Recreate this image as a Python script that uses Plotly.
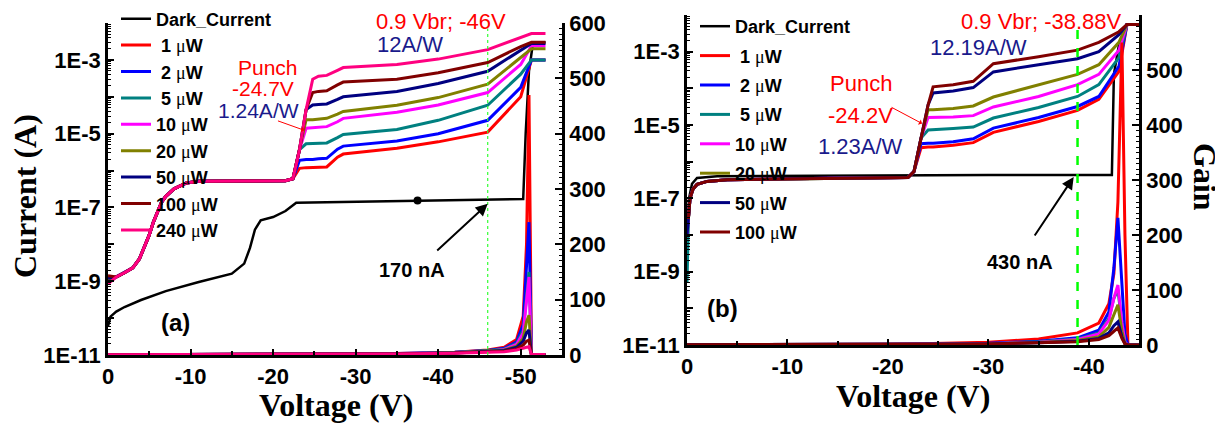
import numpy as np
import plotly.graph_objects as go

# page body has an 8px margin: design in screenshot pixels, convert to figure fractions
OFF = 8
W, H = 1215, 420

def fx(px):
    return (px - OFF) / W

def fy(py):
    return 1 - (py - OFF) / H

MU = "<span style='font-family:Liberation Serif;font-weight:normal'>μ</span>"
NB = "\u00a0"

colors_photo = ["#FF0000", "#0000FF", "#008080", "#FF00FF", "#808000", "#000080", "#800000", "#FF0080"]
names_a = [NB + "1 " + MU + "W", NB + "2 " + MU + "W", NB + "5 " + MU + "W", "10 " + MU + "W",
           "20 " + MU + "W", "50 " + MU + "W", "100 " + MU + "W", "240 " + MU + "W"]
names_b = names_a[:7]

# ---------------- Panel (a) data ----------------
dark_a_V = [0, -0.3, -1, -2, -4, -7, -11, -15, -16.5, -17.2, -17.8, -18.5, -20, -21.5, -22.8,
            -30, -37.5, -45, -50.3, -50.6, -51, -51.5, -53]
dark_a_I = [6e-11, 1.1e-10, 1.5e-10, 2e-10, 3.1e-10, 5.4e-10, 9.5e-10, 1.6e-9, 3e-9, 8e-9, 2.5e-8,
            4.5e-8, 5.5e-8, 8e-8, 1.35e-7, 1.45e-7, 1.55e-7, 1.65e-7, 1.7e-7, 1e-5, 5e-4, 3.0e-3, 3.0e-3]
dark_dot_a_V = [-37.5]
dark_dot_a_I = [1.55e-7]

start_a_I = [1.0e-9, 1.0e-9, 1.05e-9, 9e-10, 1.1e-9, 1.2e-9, 1.4e-9, 8.5e-10]   # at 0 V
pre_a_V = [-1, -2, -3, -3.8, -4.5, -5, -5.5, -6, -6.5, -7, -8, -9.5, -11, -16, -21.5, -22.4]
pre_a_I = [1.3e-9, 1.7e-9, 2.3e-9, 4e-9, 9e-9, 1.8e-8, 4e-8, 8e-8, 1.4e-7, 2e-7, 3.2e-7, 4.6e-7,
           5.1e-7, 5.2e-7, 5.3e-7, 6e-7]
post_a_V = [-23.2, -24.0, -24.8, -25.5, -26.5, -27.8, -28.5, -35, -40, -46, -50, -51.3, -53]
red_a = [1.15e-6, 1.2e-6, 1.2e-6, 1.25e-6, 1.25e-6, 2.3e-6, 2.8e-6, 4.0e-6, 6.0e-6, 1.1e-5, 1.0e-4, 1.0e-3, 1.0e-3]
blue_a = [1.9e-6, 2.0e-6, 2.0e-6, 2.1e-6, 2.15e-6, 3.8e-6, 4.6e-6, 6.3e-6, 1.0e-5, 2.3e-5, 1.8e-4, 1.0e-3, 1.0e-3]
teal_a = [3.7e-6, 5.3e-6, 5.4e-6, 5.5e-6, 5.6e-6, 7.8e-6, 9.5e-6, 1.3e-5, 2.3e-5, 5.9e-5, 4.1e-4, 1.0e-3, 1.0e-3]
magenta_a = [3.7e-6, 1.4e-5, 1.45e-5, 1.5e-5, 1.55e-5, 2.1e-5, 2.6e-5, 3.8e-5, 6.0e-5, 1.3e-4, 7.5e-4, 2.4e-3, 2.4e-3]
olive_a = [3.7e-6, 2.4e-5, 2.4e-5, 2.5e-5, 2.6e-5, 3.4e-5, 4.0e-5, 5.9e-5, 9.5e-5, 2.2e-4, 1.2e-3, 2.0e-3, 2.0e-3]
navy_a = [3.7e-6, 4.5e-5, 6.0e-5, 6.2e-5, 6.4e-5, 8.5e-5, 1.0e-4, 1.4e-4, 2.3e-4, 4.9e-4, 1.9e-3, 2.8e-3, 2.8e-3]
brown_a = [3.7e-6, 4.5e-5, 1.3e-4, 1.4e-4, 1.45e-4, 2.1e-4, 2.5e-4, 3.0e-4, 4.5e-4, 8.5e-4, 2.3e-3, 3.0e-3, 3.0e-3]
pink_a = [3.7e-6, 4.5e-5, 3.0e-4, 3.6e-4, 3.8e-4, 5.2e-4, 6.2e-4, 7.5e-4, 1.05e-3, 1.9e-3, 4.1e-3, 5.2e-3, 5.2e-3]
post_a = [red_a, blue_a, teal_a, magenta_a, olive_a, navy_a, brown_a, pink_a]

gain_a_V = [0, -25, -35, -42, -46, -48, -49.5, -50.3, -50.7, -51.0, -51.3, -53]
gain_red_a = [0.5, 1, 2.5, 5, 9, 14, 28, 70, 200, 470, 0, 0]
gain_blue_a = [0.5, 1, 2.5, 5, 8, 12, 24, 55, 150, 240, 0, 0]
gain_teal_a = [0.5, 1, 2, 4.5, 7.5, 11, 21, 45, 110, 150, 0, 0]
gain_magenta_a = [0.5, 1, 2, 4, 7, 10, 19, 40, 100, 141, 0, 0]
gain_olive_a = [0.5, 1, 2, 4, 6.5, 9, 16, 30, 60, 72, 0, 0]
gain_navy_a = [0.5, 1, 2, 3.5, 6, 8, 14, 25, 40, 45, 0, 0]
gain_brown_a = [0.5, 1, 2, 3.5, 5.5, 7, 11, 18, 25, 27, 0, 0]
gain_pink_a = [0.5, 1, 2, 3, 5, 6, 9, 13, 14, 15, 1, 1]
gain_a = [gain_red_a, gain_blue_a, gain_teal_a, gain_magenta_a, gain_olive_a, gain_navy_a,
          gain_brown_a, gain_pink_a]

# ---------------- Panel (b) data ----------------
dark_b_V = [0, -0.2, -0.5, -1, -3, -10, -22, -30, -42.3, -42.5, -43.0, -43.8, -45]
dark_b_I = [1e-8, 1e-7, 2.5e-7, 3.6e-7, 4.0e-7, 4.1e-7, 4.2e-7, 4.3e-7, 4.3e-7, 2.4e-4, 1.5e-3, 5.5e-3, 5.5e-3]

start_b_I = [1e-8, 1e-8, 5e-10, 1e-8, 2e-8, 1e-8, 3e-8]   # at 0 V
pre_b_V = [-0.15, -0.3, -0.6, -1, -2, -4, -10, -18, -22]
pre_b_I = [3e-8, 1e-7, 1.8e-7, 2.4e-7, 2.9e-7, 3.2e-7, 3.4e-7, 3.6e-7, 3.7e-7]
post_b_V = [-22.6, -23.3, -24.0, -24.5, -26.5, -28.5, -30.5, -35, -38.88, -41, -43, -43.8, -45]
red_b = [5.4e-7, 2.4e-6, 2.5e-6, 2.5e-6, 2.8e-6, 3.3e-6, 6.3e-6, 1.25e-5, 2.5e-5, 5.0e-5, 2.9e-4, 5.5e-3, 5.5e-3]
blue_b = [5.4e-7, 3.1e-6, 3.2e-6, 3.2e-6, 3.5e-6, 4.2e-6, 8.2e-6, 1.6e-5, 3.2e-5, 6.0e-5, 4.0e-4, 5.5e-3, 5.5e-3]
teal_b = [5.4e-7, 4.4e-6, 7.3e-6, 7.4e-6, 8.0e-6, 8.8e-6, 1.55e-5, 3.0e-5, 6.0e-5, 1.26e-4, 6.9e-4, 5.5e-3, 5.5e-3]
magenta_b = [5.4e-7, 4.4e-6, 1.6e-5, 1.6e-5, 1.65e-5, 1.8e-5, 3.1e-5, 6.0e-5, 1.26e-4, 2.4e-4, 1.1e-3, 5.5e-3, 5.5e-3]
olive_b = [5.4e-7, 4.4e-6, 2.6e-5, 2.6e-5, 2.8e-5, 3.3e-5, 5.8e-5, 1.26e-4, 2.4e-4, 4.4e-4, 1.8e-3, 5.5e-3, 5.5e-3]
navy_b = [5.4e-7, 4.4e-6, 3.5e-5, 7.5e-5, 8.5e-5, 1.05e-4, 2.8e-4, 4.4e-4, 6.4e-4, 1.0e-3, 2.9e-3, 5.5e-3, 5.5e-3]
brown_b = [5.4e-7, 4.4e-6, 3.5e-5, 1.1e-4, 1.25e-4, 1.55e-4, 4.7e-4, 7.3e-4, 1.1e-3, 1.8e-3, 3.5e-3, 5.5e-3, 5.5e-3]
post_b = [red_b, blue_b, teal_b, magenta_b, olive_b, navy_b, brown_b]

gain_b_V = [0, -20, -30, -35, -38.88, -41, -42, -42.5, -42.9, -43.3, -43.6, -43.9, -45]
gain_red_b = [0.5, 1, 5, 11, 22, 40, 75, 130, 260, 550, 200, 0, 0]
gain_blue_b = [0.5, 1, 3, 7, 13, 27, 60, 140, 231, 100, 20, 0, 0]
gain_teal_b = [0.5, 1, 2.5, 6, 11, 22, 48, 85, 100, 40, 5, 0, 0]
gain_magenta_b = [0.5, 1, 2.5, 5, 10, 20, 45, 85, 109, 40, 5, 0, 0]
gain_olive_b = [0.5, 1, 2, 4.5, 8, 15, 32, 55, 73, 25, 3, 0, 0]
gain_navy_b = [0.5, 1, 2, 4, 7, 12, 22, 35, 42, 15, 2, 0, 0]
gain_brown_b = [0.5, 1, 2, 4, 6, 10, 17, 25, 31, 12, 2, 0, 0]
gain_b = [gain_red_b, gain_blue_b, gain_teal_b, gain_magenta_b, gain_olive_b, gain_navy_b, gain_brown_b]

# tick labels
x_tick_a = [0, -10, -20, -30, -40, -50]
x_tick_b = [0, -10, -20, -30, -40]
log_tickvals = [1e-11, 1e-10, 1e-9, 1e-8, 1e-7, 1e-6, 1e-5, 1e-4, 1e-3, 1e-2]
log_ticktext = ["1E-11", "", "1E-9", "", "1E-7", "", "1E-5", "", "1E-3", ""]
gain_ticks = [0, 100, 200, 300, 400, 500, 600]

fig = go.Figure()

LW = 3
fig.add_trace(go.Scatter(x=dark_a_V, y=dark_a_I, mode="lines", name="Dark_Current",
                         line=dict(color="black", width=2.5), xaxis="x", yaxis="y",
                         legend="legend", legendgroup="a0"))
fig.add_trace(go.Scatter(x=dark_dot_a_V, y=dark_dot_a_I, mode="markers", showlegend=False,
                         marker=dict(color="black", size=8), xaxis="x", yaxis="y"))
for i in range(8):
    V = [0] + pre_a_V + post_a_V
    I = [start_a_I[i]] + pre_a_I + post_a[i]
    fig.add_trace(go.Scatter(x=V, y=I, mode="lines", name=names_a[i],
                             line=dict(color=colors_photo[i], width=LW), xaxis="x", yaxis="y",
                             legend="legend", legendgroup="a%d" % (i + 1)))
for i in range(8):
    fig.add_trace(go.Scatter(x=gain_a_V, y=gain_a[i], mode="lines", showlegend=False,
                             line=dict(color=colors_photo[i], width=LW), xaxis="x", yaxis="y2"))

fig.add_trace(go.Scatter(x=dark_b_V, y=dark_b_I, mode="lines", name="Dark_Current",
                         line=dict(color="black", width=2.5), xaxis="x2", yaxis="y3",
                         legend="legend2", legendgroup="b0"))
for i in range(7):
    V = [0] + pre_b_V + post_b_V
    I = [start_b_I[i]] + pre_b_I + post_b[i]
    fig.add_trace(go.Scatter(x=V, y=I, mode="lines", name=names_b[i],
                             line=dict(color=colors_photo[i], width=LW), xaxis="x2", yaxis="y3",
                             legend="legend2", legendgroup="b%d" % (i + 1)))
for i in range(7):
    fig.add_trace(go.Scatter(x=gain_b_V, y=gain_b[i], mode="lines", showlegend=False,
                             line=dict(color=colors_photo[i], width=LW), xaxis="x2", yaxis="y4"))

tickfont = dict(family="Liberation Sans", size=22, color="black", weight="bold")
axis_common = dict(showline=True, linewidth=2.5, linecolor="black", showgrid=False, zeroline=False,
                   ticks="inside", tickwidth=2, tickcolor="black", tickfont=tickfont, automargin=False)

leg_font = dict(family="Liberation Sans", size=18, color="black", weight="bold")

fig.update_layout(
    width=W, height=H, margin=dict(l=0, r=0, t=0, b=0, pad=0, autoexpand=False),
    paper_bgcolor="white", plot_bgcolor="white",
    xaxis=dict(domain=[fx(108), fx(562)], range=[0, -55], anchor="y",
               tickmode="array", tickvals=x_tick_a, ticktext=[str(v) for v in x_tick_a], ticklen=6,
               minor=dict(tick0=0, dtick=5, ticks="inside", ticklen=4, tickwidth=2, tickcolor="black"),
               **axis_common),
    yaxis=dict(domain=[fy(355), fy(23)], type="log", range=[-11, -2], anchor="x",
               tickmode="array", tickvals=log_tickvals, ticktext=log_ticktext, ticklen=6,
               minor=dict(dtick="D1", ticks="inside", ticklen=3, tickwidth=1.2, tickcolor="black"),
               **axis_common),
    yaxis2=dict(overlaying="y", side="right", anchor="x", range=[0, 600],
                tickmode="array", tickvals=gain_ticks, ticklen=7,
                minor=dict(tick0=0, dtick=10, ticks="inside", ticklen=3, tickwidth=1.2, tickcolor="black"),
                **axis_common),
    xaxis2=dict(domain=[fx(687), fx(1139)], range=[0, -45], anchor="y3",
                tickmode="array", tickvals=x_tick_b, ticktext=[str(v) for v in x_tick_b], ticklen=6,
                minor=dict(tick0=0, dtick=5, ticks="inside", ticklen=4, tickwidth=2, tickcolor="black"),
                **axis_common),
    yaxis3=dict(domain=[fy(345), fy(15)], type="log", range=[-11, -2], anchor="x2",
                tickmode="array", tickvals=log_tickvals, ticktext=log_ticktext, ticklen=6,
                minor=dict(dtick="D1", ticks="inside", ticklen=3, tickwidth=1.2, tickcolor="black"),
                **axis_common),
    yaxis4=dict(overlaying="y3", side="right", anchor="x2", range=[0, 600],
                tickmode="array", tickvals=gain_ticks, ticklen=7,
                minor=dict(tick0=0, dtick=10, ticks="inside", ticklen=3, tickwidth=1.2, tickcolor="black"),
                **axis_common),
    legend=dict(xref="paper", yref="paper", x=fx(116), xanchor="left", y=fy(0.5), yanchor="top",
                bgcolor="rgba(0,0,0,0)", font=leg_font, tracegroupgap=0, itemwidth=30, maxheight=420),
    legend2=dict(xref="container", yref="container", x=fx(695), xanchor="left", y=fy(5), yanchor="top",
                 bgcolor="rgba(0,0,0,0)", font=leg_font, tracegroupgap=3, itemwidth=30, maxheight=420),
)

# green reference lines
fig.add_shape(type="line", xref="x", yref="y2", x0=-46, x1=-46, y0=0, y1=590,
              line=dict(color="#33FF33", width=1.2, dash="dot"))
fig.add_shape(type="line", xref="x2", yref="y4", x0=-38.88, x1=-38.88, y0=0, y1=573,
              line=dict(color="#00FF00", width=2.5, dash="dash"))

ann = []
def txt(x, y, s, color="black", size=22, bold=False, family="Liberation Sans", angle=0):
    ann.append(dict(x=fx(x), y=fy(y), xref="paper", yref="paper", text=s, showarrow=False,
                    xanchor="center", yanchor="middle", textangle=angle,
                    font=dict(family=family, size=size, color=color,
                              weight="bold" if bold else "normal")))

RED = "#FF0000"
NAVY = "#1A1A8C"
txt(441, 21, "0.9 Vbr; -46V", RED)
txt(410, 44, "12A/W", NAVY)
txt(268, 68, "Punch", RED, size=21)
txt(263, 88, "-24.7V", RED, size=21)
txt(258, 110, "1.24A/W", NAVY, size=21)
txt(412, 270, "170 nA", size=20, bold=True)
txt(175, 322, "(a)", size=24, bold=True)
txt(1041, 21, "0.9 Vbr; -38.88V", RED)
txt(978, 47, "12.19A/W", NAVY)
txt(861, 83, "Punch", RED)
txt(860, 115, "-24.2V", RED)
txt(860, 147, "1.23A/W", NAVY)
txt(1020, 262, "430 nA", size=20, bold=True)
txt(722, 308, "(b)", size=24, bold=True)
serif = "Liberation Serif"
txt(25, 196, "Current (A)", size=32, bold=True, family=serif, angle=-90)
txt(336, 405, "Voltage (V)", size=32, bold=True, family=serif)
txt(913, 396, "Voltage (V)", size=32, bold=True, family=serif)
txt(1205, 177, "Gain", size=32, bold=True, family=serif, angle=90)

ann.append(dict(x=-23.8, y=-4.91, xref="x", yref="y", ax=-28, ay=-10, text="", showarrow=True,
                arrowhead=1, arrowsize=1, arrowwidth=1, arrowcolor=RED))
ann.append(dict(x=-23.4, y=-4.96, xref="x2", yref="y3", ax=-32, ay=-17, text="", showarrow=True,
                arrowhead=1, arrowsize=1, arrowwidth=1, arrowcolor=RED))
ann.append(dict(x=-46, y=float(np.log10(1.25e-7)), xref="x", yref="y", ax=-52, ay=48, text="",
                showarrow=True, arrowhead=2, arrowsize=1.2, arrowwidth=2, arrowcolor="black"))
ann.append(dict(x=-38.5, y=float(np.log10(3.8e-7)), xref="x2", yref="y3", ax=-40, ay=60, text="",
                showarrow=True, arrowhead=2, arrowsize=1.2, arrowwidth=2, arrowcolor="black"))
fig.update_layout(annotations=ann)

fig.write_html("out.html")
